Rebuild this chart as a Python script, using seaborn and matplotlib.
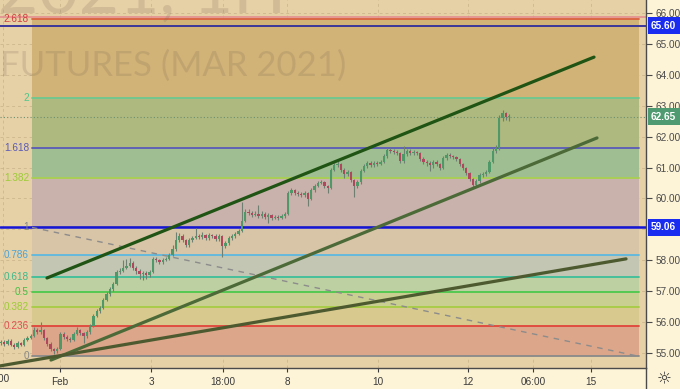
import numpy as np
import pandas as pd
import matplotlib
matplotlib.use("Agg")
import matplotlib.pyplot as plt
import seaborn as sns
from matplotlib.transforms import blended_transform_factory
from matplotlib.lines import Line2D

sns.set_theme(style="white")
plt.rcParams["font.family"] = ["Liberation Sans", "DejaVu Sans"]

# ---------------- data ----------------
first_open = 55.30
closes = [
    55.35, 55.29, 55.39, 55.26, 55.19, 55.32, 55.26, 55.42, 55.48, 55.55,
    55.74, 55.68, 55.74, 55.48, 55.29, 55.12, 55.06, 55.12, 55.61, 55.51,
    55.45, 55.42, 55.61, 55.74, 55.64, 55.55, 55.68, 55.87, 56.19, 56.35,
    56.46, 56.71, 56.91, 57.07, 57.23, 57.62, 57.65, 57.75, 57.81, 57.91,
    57.75, 57.65, 57.55, 57.59, 57.52, 57.62, 58.04, 58.00, 57.94, 58.00,
    58.04, 58.17, 58.36, 58.65, 58.78, 58.65, 58.49, 58.65, 58.72, 58.78,
    58.75, 58.81, 58.72, 58.81, 58.78, 58.68, 58.78, 58.46, 58.55, 58.72,
    58.78, 58.85, 58.94, 59.27, 59.56, 59.53, 59.46, 59.50, 59.43, 59.50,
    59.40, 59.46, 59.37, 59.40, 59.37, 59.43, 59.50, 60.18, 60.27, 60.18,
    60.14, 60.11, 60.18, 59.98, 60.27, 60.40, 60.50, 60.53, 60.40, 60.34,
    60.92, 61.08, 61.12, 60.92, 60.79, 60.86, 60.60, 60.40, 60.53, 60.89,
    61.05, 61.15, 61.08, 61.15, 61.12, 61.18, 61.37, 61.57, 61.54, 61.50,
    61.47, 61.21, 61.44, 61.54, 61.47, 61.50, 61.47, 61.28, 61.18, 61.15,
    61.08, 61.18, 61.12, 60.99, 61.31, 61.41, 61.37, 61.34, 61.28, 61.12,
    60.99, 60.82, 60.63, 60.43, 60.56, 60.76, 60.79, 60.86, 61.18, 61.54,
    61.63, 62.61, 62.77, 62.64, 62.65,
]
highs = [
    55.42, 55.40, 55.45, 55.44, 55.30, 55.38, 55.36, 55.48, 55.55, 55.62,
    55.84, 55.80, 56.00, 55.78, 55.52, 55.33, 55.16, 55.18, 55.66, 55.66,
    55.56, 55.50, 55.67, 55.84, 55.78, 55.68, 55.74, 55.92, 56.25, 56.42,
    56.52, 56.77, 56.97, 57.14, 57.30, 57.68, 57.75, 58.00, 58.04, 58.07,
    57.98, 57.80, 57.70, 57.66, 57.65, 57.68, 58.10, 58.09, 58.05, 58.08,
    58.10, 58.24, 58.49, 58.90, 58.88, 58.84, 58.70, 58.72, 58.78, 59.04,
    58.86, 58.90, 58.86, 58.88, 58.86, 58.83, 58.84, 58.82, 58.62, 58.78,
    58.85, 58.92, 59.00, 59.89, 59.65, 59.66, 59.60, 59.60, 59.79, 59.58,
    59.55, 59.52, 59.50, 59.47, 59.46, 59.50, 59.56, 60.24, 60.34, 60.32,
    60.24, 60.20, 60.25, 60.22, 60.33, 60.46, 60.56, 60.60, 60.58, 60.45,
    60.98, 61.15, 61.20, 61.16, 60.97, 60.92, 60.90, 60.64, 60.60, 60.95,
    61.12, 61.22, 61.20, 61.22, 61.20, 61.25, 61.44, 61.64, 61.62, 61.60,
    61.56, 61.51, 61.71, 61.61, 61.60, 61.57, 61.55, 61.52, 61.33, 61.24,
    61.20, 61.24, 61.23, 61.16, 61.37, 61.48, 61.46, 61.42, 61.39, 61.32,
    61.16, 61.03, 60.86, 60.67, 60.62, 60.82, 60.86, 60.93, 61.24, 61.64,
    61.72, 62.70, 62.87, 62.80, 62.72,
]
lows = [
    55.24, 55.22, 55.25, 55.20, 55.12, 55.15, 55.20, 55.22, 55.38, 55.44,
    55.50, 55.62, 55.62, 55.42, 55.22, 55.05, 54.97, 55.00, 55.08, 55.45,
    55.38, 55.35, 55.38, 55.56, 55.58, 55.32, 55.48, 55.62, 55.82, 56.14,
    56.30, 56.42, 56.66, 56.85, 57.00, 57.18, 57.55, 57.60, 57.70, 57.76,
    57.68, 57.55, 57.40, 57.36, 57.38, 57.45, 57.58, 57.94, 57.88, 57.88,
    57.96, 58.00, 58.12, 58.30, 58.60, 58.58, 58.42, 58.44, 58.60, 58.68,
    58.68, 58.70, 58.66, 58.66, 58.72, 58.62, 58.63, 58.10, 58.40, 58.50,
    58.66, 58.72, 58.80, 58.90, 59.22, 59.46, 59.40, 59.42, 59.38, 59.38,
    59.34, 59.20, 59.30, 59.32, 59.30, 59.32, 59.38, 59.46, 60.12, 60.12,
    60.08, 60.05, 60.06, 59.76, 59.94, 60.22, 60.36, 60.46, 60.34, 60.18,
    60.30, 60.88, 61.02, 60.86, 60.66, 60.74, 60.54, 60.05, 60.34, 60.48,
    60.84, 61.00, 61.02, 61.03, 61.06, 61.07, 61.14, 61.32, 61.48, 61.44,
    61.40, 61.15, 61.16, 61.39, 61.41, 61.42, 61.40, 61.22, 61.10, 61.05,
    60.88, 60.98, 61.05, 60.92, 60.95, 61.26, 61.30, 61.28, 61.22, 61.06,
    60.92, 60.76, 60.56, 60.34, 60.38, 60.50, 60.70, 60.74, 60.82, 61.14,
    61.48, 61.58, 62.52, 62.55, 62.50,
]
last_price = 62.65

# Fibonacci extension
fib_price0 = 54.88
fib_price1 = 59.06
fib_ratios = [0, 0.236, 0.382, 0.5, 0.618, 0.786, 1, 1.382, 1.618, 2, 2.618]
fib_labels = ["0", "0.236", "0.382", "0.5", "0.618", "0.786", "1", "1.382", "1.618", "2", "2.618"]
fib_x_range = [9.39, 193.3]           # bar index span of the fib drawing

# horizontal lines (price)
hline_blue_top = 65.60
hline_blue_mid = 59.06
hline_pink = 65.88

# trend lines: (bar index, price) endpoints
trend_upper = {"x": [13.94, 179.7], "y": [57.42, 64.58]}
trend_lower = {"x": [15.15, 180.6], "y": [54.76, 61.96]}
trend_long = {"x": [-0.3, 189.4], "y": [54.57, 58.04]}
trend_dash = {"x": [9.39, 193.3], "y": [59.06, 54.88]}

# axis ticks
time_tick_pos = [17.88, 45.45, 67.27, 86.67, 114.24, 141.52, 161.21, 178.79]
time_tick_lab = ["Feb", "3", "18:00", "8", "10", "12", "06:00", "15"]
price_ticks = [55, 56, 57, 58, 60, 61, 62, 63, 64, 65, 66]

# ---------------- styling ----------------
fill_colors = ["#dca68a", "#d8c98e", "#c9cf90", "#bdd0a2", "#c2c6b2",
               "#d8c4a6", "#c9b2ab", "#9fbe91", "#aeb97f", "#d2b377"]
line_colors = ["#8a8a8a", "#e0453a", "#a6cc44", "#4cc84c", "#3cbf9a",
               "#5cb8e0", "#8a8a8a", "#a8d050", "#5a5ab8", "#6cc890", "#dc6040"]
label_colors = ["#888888", "#e05050", "#9ccc34", "#43c043", "#3cb98a",
                "#4aa3d8", "#888888", "#9ccc34", "#5a5ab8", "#4cc88c", "#d04040"]
FS = 6.6

W, H = 680, 389
fig = plt.figure(figsize=(W / 100, H / 100), dpi=100, facecolor="#fdf3d6")
ax = fig.add_axes([0, 21.3 / H, 646 / W, 367.7 / H])
ax.set_facecolor("#e6d0a6")
ax.set_xlim(-0.303, 195.45)
ax.set_ylim(54.512, 66.431)

# grid
for p in range(55, 67):
    ax.axhline(p, color="#a89068", alpha=0.35, lw=0.7, ls=(0, (3, 3)), zorder=0.5)
for t in time_tick_pos + [0.6]:
    ax.axvline(t, color="#a89068", alpha=0.35, lw=0.7, ls=(0, (3, 3)), zorder=0.5)

# fib fills and lines
fib_prices = [fib_price0 + r * (fib_price1 - fib_price0) for r in fib_ratios]
for k in range(len(fib_prices) - 1):
    ax.fill_between(fib_x_range, fib_prices[k], fib_prices[k + 1],
                    color=fill_colors[k], lw=0, zorder=1)
for k, p in enumerate(fib_prices):
    ax.plot(fib_x_range, [p, p], color=line_colors[k], lw=1.3, zorder=2)
    ax.text(8.5, p, fib_labels[k], color=label_colors[k], fontsize=FS + 0.6,
            ha="right", va="center", zorder=3)

# horizontal lines
ax.axhline(hline_pink, color="#e49090", lw=1.2, zorder=2)
ax.axhline(hline_blue_top, color="#2c2c9c", lw=1.3, zorder=2)
ax.axhline(hline_blue_mid, color="#1515d8", lw=1.8, zorder=2.5)
ax.axhline(last_price, color="#6c8f70", lw=0.8, ls=(0, (1, 2)), zorder=2)

# candles
opens = [first_open] + closes[:-1]
idx = np.arange(len(closes))
df = pd.DataFrame({"i": idx, "o": opens, "c": closes, "h": highs, "l": lows})
up = df["c"] >= df["o"]
ax.vlines(df["i"], df["l"], df["h"], color="#6f7f72", lw=0.8, zorder=4)
body_bottom = np.minimum(df["o"], df["c"])
body_h = np.maximum(np.abs(df["c"] - df["o"]), 0.03)
ax.bar(df["i"], body_h, bottom=body_bottom, width=0.72,
       color=np.where(up, "#4f9868", "#b0475c"), edgecolor="none", zorder=5)

# trend lines via seaborn
tl = pd.DataFrame({
    "x": trend_upper["x"] + trend_lower["x"] + trend_long["x"],
    "y": trend_upper["y"] + trend_lower["y"] + trend_long["y"],
    "line": ["upper"] * 2 + ["lower"] * 2 + ["long"] * 2,
})
sns.lineplot(data=tl, x="x", y="y", hue="line", units="line", estimator=None,
             palette={"upper": "#1f5414", "lower": "#4c6a38", "long": "#4d5a30"},
             linewidth=2.3, legend=False, ax=ax, zorder=6, sort=False)
sns.lineplot(x=trend_dash["x"], y=trend_dash["y"], color="#8c8c8c",
             linewidth=1.0, linestyle=(0, (4, 4)), ax=ax, zorder=3)

# axes styling
for s in ["top", "left"]:
    ax.spines[s].set_visible(False)
for s in ["right", "bottom"]:
    ax.spines[s].set_color("#4a4a4a")
    ax.spines[s].set_linewidth(1.0)
ax.yaxis.tick_right()
ax.set_yticks(price_ticks)
ax.set_yticklabels([f"{p:.2f}" for p in price_ticks])
ax.set_xticks(time_tick_pos)
ax.set_xticklabels(time_tick_lab)
ax.tick_params(axis="y", labelsize=FS + 0.6, colors="#4a4a4a", length=4, width=0.8, pad=3, right=True)
ax.tick_params(axis="x", labelsize=FS + 0.6, colors="#3a3a3a", length=3, width=0.8, pad=4, bottom=True)
ax.set_xlabel("")
ax.set_ylabel("")

# price label boxes
tr = blended_transform_factory(ax.transAxes, ax.transData)
for price, col in [(hline_blue_top, "#1a2cf0"), (hline_blue_mid, "#1a2cf0"), (last_price, "#4f9a70")]:
    ax.text(1.0 + 5 / 646, price, f"{price:.2f}", transform=tr, ha="left", va="center",
            fontsize=FS + 0.6, color="white", fontweight="bold", clip_on=False, zorder=10,
            bbox=dict(boxstyle="square,pad=0.35", fc=col, ec="none"))

# watermark
fig.text(-2 / W, 1 - 13 / H, "2021, 1H", fontsize=50, family="Lato",
         color="#7a6a58", alpha=0.2, ha="left", va="baseline")
fig.text(0 / W, 1 - 76 / H, "FUTURES (MAR 2021)", fontsize=25, family="Lato",
         color="#7a6a58", alpha=0.2, ha="left", va="baseline")

# cut-off first time label and gear
fig.text(-3 / W, 1 - 379 / H, "00:00", fontsize=FS + 0.6, color="#3a3a3a", ha="center", va="center")
fig.add_artist(Line2D([646 / W, 646 / W], [0, 21.3 / H], color="#4a4a4a", lw=1.0))
fig.text(664 / W, 1 - 379 / H, "\u263c", fontsize=12, color="#333333", ha="center", va="center",
         family=["DejaVu Sans"])

fig.savefig("out.png", dpi=100, facecolor=fig.get_facecolor())
